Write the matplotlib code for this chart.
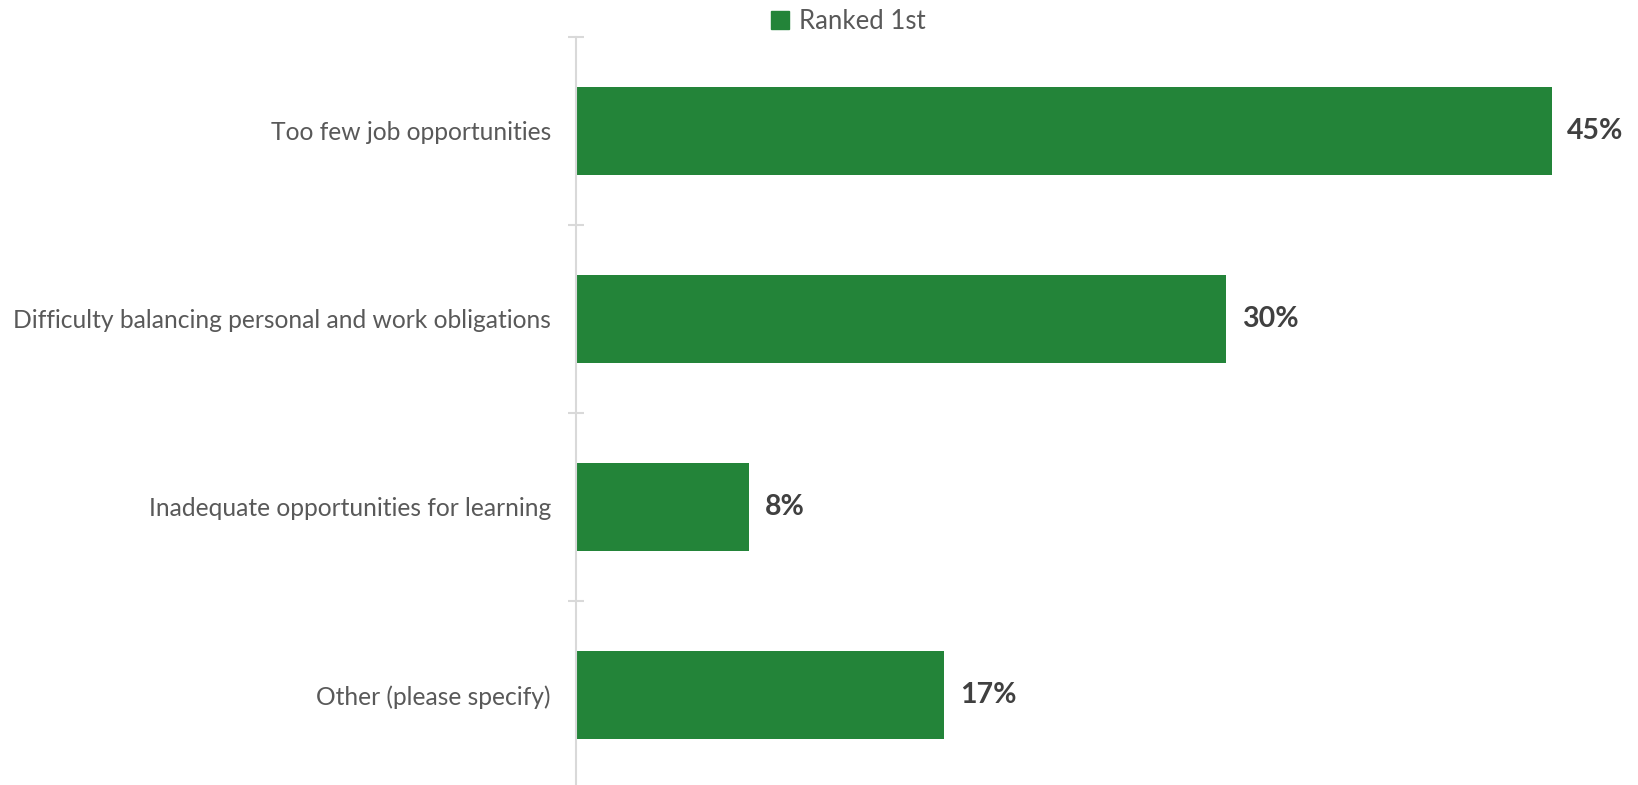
import matplotlib.pyplot as plt
from matplotlib.patches import Patch

categories = ["Too few job opportunities",
              "Difficulty balancing personal and work obligations",
              "Inadequate opportunities for learning",
              "Other (please specify)"]
ranked_first = [45, 30, 8, 17]
series_name = "Ranked 1st"

green = "#238439"
grey_text = "#595959"
axis_grey = "#d9d9d9"

plt.rcParams['font.family'] = ['Lato', 'DejaVu Sans']

fig = plt.figure(figsize=(16.38, 7.85), dpi=100)
ax = fig.add_axes([0.3515, 0.0, 0.62, 0.9529])

pos = list(range(len(categories)))
ax.barh(pos, ranked_first, height=0.465, color=green, linewidth=0)

for p, v in zip(pos, ranked_first):
    ax.annotate(f"{v}%", (v, p), xytext=(11, 0), textcoords="offset points",
                va="center", ha="left", fontsize=20.5, fontweight="bold",
                color="#404040")

ax.set_xlim(0, 45 * 0.62 * 1638 / 976)
ax.set_ylim(-0.5 + 748 / 188, -0.5)

ax.set_yticks(pos)
ax.set_yticklabels(categories, fontsize=17.75, color=grey_text)
ax.tick_params(axis="y", which="major", length=0, pad=18)
ax.set_yticks([-0.5, 0.5, 1.5, 2.5], minor=True)
ax.tick_params(axis="y", which="minor", length=12, direction="inout",
               width=1.5, color=axis_grey)
ax.set_xticks([])

for s in ["top", "right", "bottom"]:
    ax.spines[s].set_visible(False)
ax.spines["left"].set_color(axis_grey)
ax.spines["left"].set_linewidth(1.5)

fig.legend(handles=[Patch(color=green, label=series_name)],
           loc="center", bbox_to_anchor=(0.518, 0.972), frameon=False,
           fontsize=18.5, labelcolor=grey_text, handlelength=0.7,
           handleheight=0.7, handletextpad=0.4)

fig.savefig("out.png", dpi=100)
